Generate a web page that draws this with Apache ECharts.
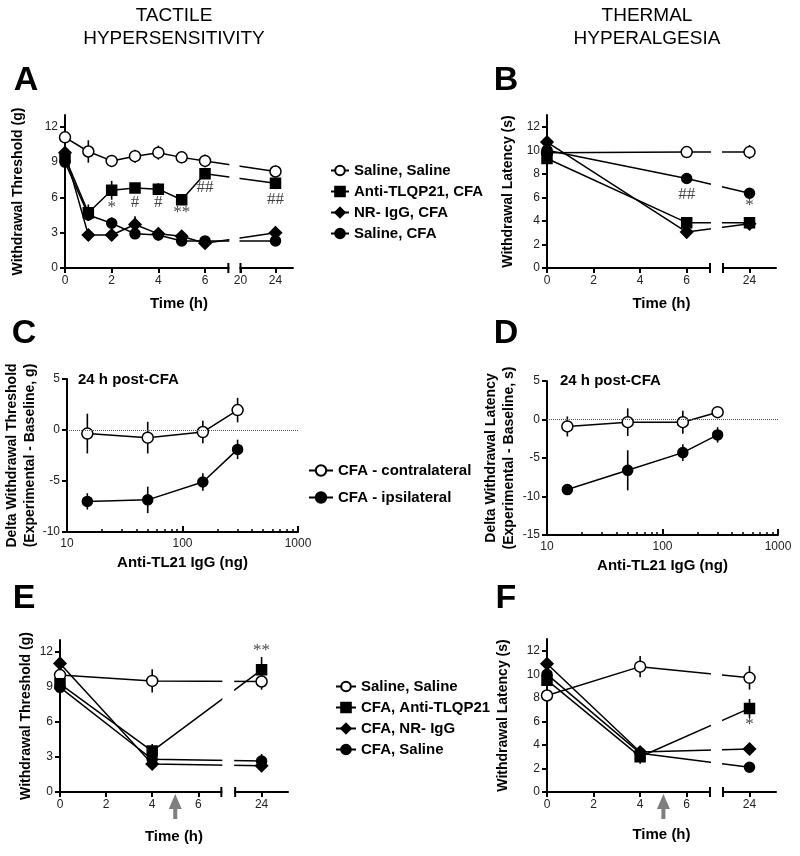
<!DOCTYPE html>
<html><head><meta charset="utf-8">
<script src="https://cdn.jsdelivr.net/npm/echarts@6/dist/echarts.min.js"></script>
<style>html,body{margin:0;padding:0;background:#fff}#c{width:800px;height:856px}</style>
</head><body><div id="c"></div>
<script>
// ---------------- DATA ----------------
// Panel A: tactile, time course (h)
const A_hours = [0, 1, 2, 3, 4, 5, 6, 24];
const A_salineSaline = [11.1, 9.9, 9.1, 9.5, 9.8, 9.4, 9.1, 8.2];
const A_salineSaline_sem = [0.3, 0.95, 0.5, 0.55, 0.6, 0.5, 0.55, 0.5];
const A_antiCFA = [9.4, 4.7, 6.6, 6.8, 6.7, 5.8, 8.0, 7.2];
const A_antiCFA_sem = [0.4, 0.7, 0.8, 0.3, 0.5, 0.3, 0.4, 0.5];
const A_nrIgGCFA = [9.8, 2.8, 2.8, 3.7, 2.9, 2.7, 2.1, 3.0];
const A_nrIgGCFA_sem = [0.4, 0.5, 0.3, 0.7, 0.5, 0.4, 0.3, 0.5];
const A_salineCFA = [9.0, 4.5, 3.8, 2.9, 2.8, 2.3, 2.3, 2.3];
const A_salineCFA_sem = [0.3, 0.5, 0.5, 0.3, 0.3, 0.3, 0.3, 0.2];
const A_marks = [[2, 5.1, '*'], [3, 5.6, '#'], [4, 5.6, '#'], [5, 4.75, '**'], [6, 6.8, '##'], [24, 5.8, '##']];

// Panel B: thermal, time course (h)
const B_hours = [0, 6, 24];
const B_salineSaline = [9.8, 9.85, 9.85];
const B_salineSaline_sem = [0.3, 0.5, 0.6];
const B_antiCFA = [9.3, 3.85, 3.85];
const B_antiCFA_sem = [0.3, 0.4, 0.4];
const B_nrIgGCFA = [10.7, 3.05, 3.75];
const B_nrIgGCFA_sem = [0.8, 0.2, 0.3];
const B_salineCFA = [10.0, 7.6, 6.35];
const B_salineCFA_sem = [0.3, 0.4, 0.2];
const B_marks = [[6, 6.2, '##'], [24, 5.35, '*']];

// Panels C, D: dose response (ng)
const CD_dose = [15, 50, 150, 300];
const C_contra = [-0.35, -0.75, -0.2, 1.95];
const C_contra_sem = [1.95, 1.55, 1.1, 1.2];
const C_ipsi = [-7.0, -6.85, -5.1, -1.9];
const C_ipsi_sem = [0.8, 1.3, 0.85, 0.95];
const D_contra = [-0.9, -0.35, -0.35, 0.95];
const D_contra_sem = [1.3, 1.8, 1.5, 0.2];
const D_ipsi = [-9.1, -6.6, -4.3, -2.0];
const D_ipsi_sem = [0.4, 2.6, 1.1, 1.0];

// Panel E: tactile, post-treatment time course (h)
const E_hours = [0, 4, 24];
const E_salineSaline = [10.0, 9.5, 9.45];
const E_salineSaline_sem = [0.5, 1.0, 0.7];
const E_cfaAnti = [9.25, 3.5, 10.45];
const E_cfaAnti_sem = [0.4, 0.6, 1.1];
const E_cfaNr = [11.0, 2.4, 2.25];
const E_cfaNr_sem = [0.3, 0.3, 0.3];
const E_cfaSaline = [8.95, 2.8, 2.65];
const E_cfaSaline_sem = [0.3, 0.4, 0.6];
const E_marks = [[24, 12.1, '**']];

// Panel F: thermal, post-treatment time course (h)
const F_hours = [0, 4, 24];
const F_salineSaline = [8.2, 10.65, 9.7];
const F_salineSaline_sem = [0.3, 0.9, 1.0];
const F_cfaAnti = [9.5, 3.0, 7.1];
const F_cfaAnti_sem = [0.3, 0.6, 0.8];
const F_cfaNr = [10.9, 3.4, 3.65];
const F_cfaNr_sem = [0.2, 0.5, 0.2];
const F_cfaSaline = [10.0, 3.3, 2.1];
const F_cfaSaline_sem = [0.3, 0.4, 0.2];
const F_marks = [[24, 5.7, '*']];

// tick labels
const timeTicksSeg1 = [0, 2, 4, 6];
const A_timeTicksSeg2 = [20, 24];
const BEF_timeTicksSeg2 = [24];
const yTicksThreshold = [0, 3, 6, 9, 12];
const yTicksLatency = [0, 2, 4, 6, 8, 10, 12];
const yTicksC = [5, 0, -5, -10];
const yTicksD = [5, 0, -5, -10, -15];

// legend names
const legendTop = ['Saline, Saline', 'Anti-TLQP21, CFA', 'NR- IgG, CFA', 'Saline, CFA'];
const legendMid = ['CFA - contralateral', 'CFA - ipsilateral'];
const legendBot = ['Saline, Saline', 'CFA, Anti-TLQP21', 'CFA, NR- IgG', 'CFA, Saline'];

// ---------------- HELPERS ----------------
const FONT = 'Liberation Sans, Arial, sans-serif';
const brk = {
  A: {seg1Max: 7, gap: 0.52, seg2Start: 20, seg2End: 26, k: 0.375},
  B: {seg1Max: 7, gap: 0.56, seg2Start: 22, seg2End: 26, k: 0.569},
  E: {seg1Max: 7, gap: 0.60, seg2Start: 22, seg2End: 26, k: 0.573},
  F: {seg1Max: 7, gap: 0.56, seg2Start: 22, seg2End: 26, k: 0.569}
};
function pos(b, t) { return t <= b.seg1Max ? t : b.seg1Max + b.gap + (t - b.seg2Start) * b.k; }
function posMax(b) { return pos(b, b.seg2End); }

const STY = {
  open: {symbol: 'circle', size: 11, fill: '#fff'},
  square: {symbol: 'rect', size: 10, fill: '#000'},
  diamond: {symbol: 'diamond', size: 12, fill: '#000'},
  dot: {symbol: 'circle', size: 10, fill: '#000'}
};

const series = [];
function addSeries(name, xs, ys, errs, sty, gi, xmap) {
  const data = xs.map((x, i) => [xmap(x), ys[i]]);
  series.push({
    type: 'custom', xAxisIndex: gi, yAxisIndex: gi, z: 2, silent: true,
    data: xs.map((x, i) => [xmap(x), ys[i], errs[i]]),
    renderItem: (params, api) => {
      const p1 = api.coord([api.value(0), api.value(1) + api.value(2)]);
      const p2 = api.coord([api.value(0), api.value(1) - api.value(2)]);
      return {type: 'line', shape: {x1: p1[0], y1: p1[1], x2: p2[0], y2: p2[1]},
        style: {stroke: '#000', lineWidth: 1.6}};
    }
  });
  series.push({
    type: 'line', name: name, xAxisIndex: gi, yAxisIndex: gi, z: 3, data: data,
    symbol: sty.symbol, symbolSize: sty.size, showSymbol: true,
    itemStyle: {color: sty.fill, borderColor: '#000', borderWidth: 1.5},
    lineStyle: {color: '#000', width: 1.5},
    emphasis: {disabled: true}, silent: true
  });
}
function addMarks(marks, gi, xmap) {
  series.push({
    type: 'scatter', xAxisIndex: gi, yAxisIndex: gi, z: 4, silent: true,
    symbolSize: 1, itemStyle: {color: 'rgba(0,0,0,0)'},
    data: marks.map(m => [xmap(m[0]), m[1], m[2]]),
    label: {show: true, position: 'inside', formatter: p => p.data[2],
      fontFamily: 'Liberation Serif, Times New Roman, serif', fontSize: 17, color: '#111'}
  });
}

const mA = t => pos(brk.A, t), mB = t => pos(brk.B, t), mE = t => pos(brk.E, t), mF = t => pos(brk.F, t);
const id = x => x;

// A (grid 0)
addSeries('Saline, Saline', A_hours, A_salineSaline, A_salineSaline_sem, STY.open, 0, mA);
addSeries('Anti-TLQP21, CFA', A_hours, A_antiCFA, A_antiCFA_sem, STY.square, 0, mA);
addSeries('NR- IgG, CFA', A_hours, A_nrIgGCFA, A_nrIgGCFA_sem, STY.diamond, 0, mA);
addSeries('Saline, CFA', A_hours, A_salineCFA, A_salineCFA_sem, STY.dot, 0, mA);
addMarks(A_marks, 0, mA);
// B (grid 1)
addSeries('Saline, Saline', B_hours, B_salineSaline, B_salineSaline_sem, STY.open, 1, mB);
addSeries('Anti-TLQP21, CFA', B_hours, B_antiCFA, B_antiCFA_sem, STY.square, 1, mB);
addSeries('NR- IgG, CFA', B_hours, B_nrIgGCFA, B_nrIgGCFA_sem, STY.diamond, 1, mB);
addSeries('Saline, CFA', B_hours, B_salineCFA, B_salineCFA_sem, STY.dot, 1, mB);
addMarks(B_marks, 1, mB);
// C (grid 2)
addSeries('CFA - contralateral', CD_dose, C_contra, C_contra_sem, STY.open, 2, id);
addSeries('CFA - ipsilateral', CD_dose, C_ipsi, C_ipsi_sem, STY.dot, 2, id);
// D (grid 3)
addSeries('CFA - contralateral', CD_dose, D_contra, D_contra_sem, STY.open, 3, id);
addSeries('CFA - ipsilateral', CD_dose, D_ipsi, D_ipsi_sem, STY.dot, 3, id);
// E (grid 4)
addSeries('Saline, Saline', E_hours, E_salineSaline, E_salineSaline_sem, STY.open, 4, mE);
addSeries('CFA, Anti-TLQP21', E_hours, E_cfaAnti, E_cfaAnti_sem, STY.square, 4, mE);
addSeries('CFA, NR- IgG', E_hours, E_cfaNr, E_cfaNr_sem, STY.diamond, 4, mE);
addSeries('CFA, Saline', E_hours, E_cfaSaline, E_cfaSaline_sem, STY.dot, 4, mE);
addMarks(E_marks, 4, mE);
// F (grid 5)
addSeries('Saline, Saline', F_hours, F_salineSaline, F_salineSaline_sem, STY.open, 5, mF);
addSeries('CFA, Anti-TLQP21', F_hours, F_cfaAnti, F_cfaAnti_sem, STY.square, 5, mF);
addSeries('CFA, NR- IgG', F_hours, F_cfaNr, F_cfaNr_sem, STY.diamond, 5, mF);
addSeries('CFA, Saline', F_hours, F_cfaSaline, F_cfaSaline_sem, STY.dot, 5, mF);
addMarks(F_marks, 5, mF);

// zero reference lines in C, D
[2, 3].forEach(gi => {
  series.push({type: 'line', xAxisIndex: gi, yAxisIndex: gi, data: [], silent: true,
    markLine: {silent: true, symbol: ['none', 'none'], label: {show: false},
      lineStyle: {type: 'dotted', color: '#555', width: 1}, data: [{yAxis: 0}]}});
});

const AX = {color: '#000', width: 2};
const nameX = {fontFamily: FONT, fontSize: 15, fontWeight: 'bold', color: '#000'};
const nameY = {fontFamily: FONT, fontSize: 14, fontWeight: 'bold', color: '#000', lineHeight: 18};
const lab = {fontFamily: FONT, fontSize: 12, color: '#222'};

function brokenX(gi, b, seg2Ticks, nameGap) {
  const labels = timeTicksSeg1.map(t => ({p: pos(b, t), t: t})).concat(seg2Ticks.map(t => ({p: pos(b, t), t: t})));
  return {
    type: 'value', gridIndex: gi, min: 0, max: posMax(b),
    axisLine: {onZero: false, lineStyle: AX},
    axisTick: {customValues: labels.map(l => l.p), length: 5, lineStyle: AX},
    axisLabel: Object.assign({customValues: labels.map(l => l.p), margin: 7,
      formatter: v => { const f = labels.find(l => Math.abs(l.p - v) < 1e-6); return f ? String(f.t) : ''; }}, lab),
    splitLine: {show: false},
    name: 'Time (h)', nameLocation: 'middle', nameGap: nameGap, nameTextStyle: nameX
  };
}
function logX(gi) {
  return {
    type: 'log', logBase: 10, gridIndex: gi, min: 10, max: 1000,
    axisLine: {onZero: false, lineStyle: AX},
    axisTick: {inside: true, length: 6, lineStyle: AX},
    minorTick: {show: true, splitNumber: 9, length: 3, lineStyle: {color: '#000', width: 1.5}},
    axisLabel: Object.assign({margin: 6, formatter: v => String(Math.round(v))}, lab),
    splitLine: {show: false}, minorSplitLine: {show: false},
    name: 'Anti-TL21 IgG (ng)', nameLocation: 'middle', nameGap: 23, nameTextStyle: nameX
  };
}
function valY(gi, min, max, ticks, name, nameGap) {
  return {
    type: 'value', gridIndex: gi, min: min, max: max,
    axisLine: {onZero: false, lineStyle: AX},
    axisTick: {customValues: ticks, length: 5, lineStyle: AX},
    axisLabel: Object.assign({customValues: ticks, margin: 7}, lab),
    splitLine: {show: false},
    name: name, nameLocation: 'middle', nameRotate: 90, nameGap: nameGap, nameTextStyle: nameY
  };
}

const grids = [
  {left: 65, top: 115, width: 228, height: 153},
  {left: 547, top: 115, width: 229, height: 153},
  {left: 67, top: 379, width: 231, height: 153},
  {left: 547, top: 381, width: 231, height: 154},
  {left: 60, top: 640, width: 228, height: 152},
  {left: 547, top: 639, width: 229, height: 153}
];

const legendText = {fontFamily: FONT, fontSize: 15, fontWeight: 'bold', color: '#000', lineHeight: 15};
const option = {
  animation: false,
  textStyle: {fontFamily: FONT},
  grid: grids,
  xAxis: [
    brokenX(0, brk.A, A_timeTicksSeg2, 28),
    brokenX(1, brk.B, BEF_timeTicksSeg2, 28),
    logX(2), logX(3),
    brokenX(4, brk.E, BEF_timeTicksSeg2, 37),
    brokenX(5, brk.F, BEF_timeTicksSeg2, 35)
  ],
  yAxis: [
    valY(0, 0, 13, yTicksThreshold, 'Withdrawal Threshold (g)', 38),
    valY(1, 0, 13, yTicksLatency, 'Withdrawal Latency (s)', 30),
    valY(2, -10, 5, yTicksC, 'Delta Withdrawal Threshold\n(Experimental - Baseline, g)', 28),
    valY(3, -15, 5, yTicksD, 'Delta Withdrawal Latency\n(Experimental - Baseline, s)', 29),
    valY(4, 0, 13, yTicksThreshold, 'Withdrawal Threshold (g)', 25),
    valY(5, 0, 13, yTicksLatency, 'Withdrawal Latency (s)', 35)
  ],
  legend: [
    {left: 325, top: 158, orient: 'vertical', itemWidth: 18, itemHeight: 12, itemGap: 6,
      data: legendTop, textStyle: legendText, selectedMode: false},
    {left: 303, top: 458, orient: 'vertical', itemWidth: 24, itemHeight: 13, itemGap: 12,
      data: legendMid, textStyle: legendText, selectedMode: false},
    {left: 330, top: 674, orient: 'vertical', itemWidth: 20, itemHeight: 12, itemGap: 6,
      data: legendBot, textStyle: legendText, selectedMode: false}
  ],
  series: series
};

const chart = echarts.init(document.getElementById('c'), null, {renderer: 'canvas'});
chart.setOption(option);

// ---------- decorations: headings, panel letters, axis breaks, arrows ----------
const gfx = [];
function txt(x, y, s, size, weight, align) {
  gfx.push({type: 'text', x: x, y: y, z: 120, style: {text: s, fontFamily: FONT, fontSize: size,
    fontWeight: weight, fill: '#000', align: align || 'center', verticalAlign: 'middle'}});
}
txt(174, 16, 'TACTILE', 19, 'normal');
txt(174, 39, 'HYPERSENSITIVITY', 19, 'normal');
txt(647, 16, 'THERMAL', 19, 'normal');
txt(647, 39, 'HYPERALGESIA', 19, 'normal');
txt(26, 81, 'A', 34, 'bold');
txt(506, 81, 'B', 34, 'bold');
txt(24, 334, 'C', 34, 'bold');
txt(506, 334, 'D', 34, 'bold');
txt(24, 599, 'E', 34, 'bold');
txt(506, 599, 'F', 34, 'bold');
txt(78, 380, '24 h post-CFA', 15, 'bold', 'left');
txt(560, 381, '24 h post-CFA', 15, 'bold', 'left');

[[0, brk.A], [1, brk.B], [4, brk.E], [5, brk.F]].forEach(([gi, b]) => {
  const pa = chart.convertToPixel({gridIndex: gi}, [b.seg1Max, 0]);
  const pb = chart.convertToPixel({gridIndex: gi}, [pos(b, b.seg2Start), 0]);
  const top = chart.convertToPixel({gridIndex: gi}, [0, 13])[1];
  gfx.push({type: 'rect', z: 100, shape: {x: pa[0] + 1, y: top - 3, width: pb[0] - pa[0] - 2, height: pa[1] - top + 10},
    style: {fill: '#fff'}});
  [pa[0], pb[0]].forEach(x => gfx.push({type: 'line', z: 101,
    shape: {x1: x, y1: pa[1] - 5, x2: x, y2: pa[1] + 5}, style: {stroke: '#000', lineWidth: 2}}));
});
// injection arrows at 5 h in E and F
[[4, brk.E], [5, brk.F]].forEach(([gi, b]) => {
  const p = chart.convertToPixel({gridIndex: gi}, [pos(b, 5), 0]);
  const x = p[0], y = p[1] + 2;
  gfx.push({type: 'polygon', z: 101, shape: {points: [[x, y], [x + 6.5, y + 15], [x + 2, y + 15], [x + 2, y + 25],
    [x - 2, y + 25], [x - 2, y + 15], [x - 6.5, y + 15]]}, style: {fill: '#7f7f7f'}});
});
chart.setOption({graphic: gfx});
</script></body></html>
